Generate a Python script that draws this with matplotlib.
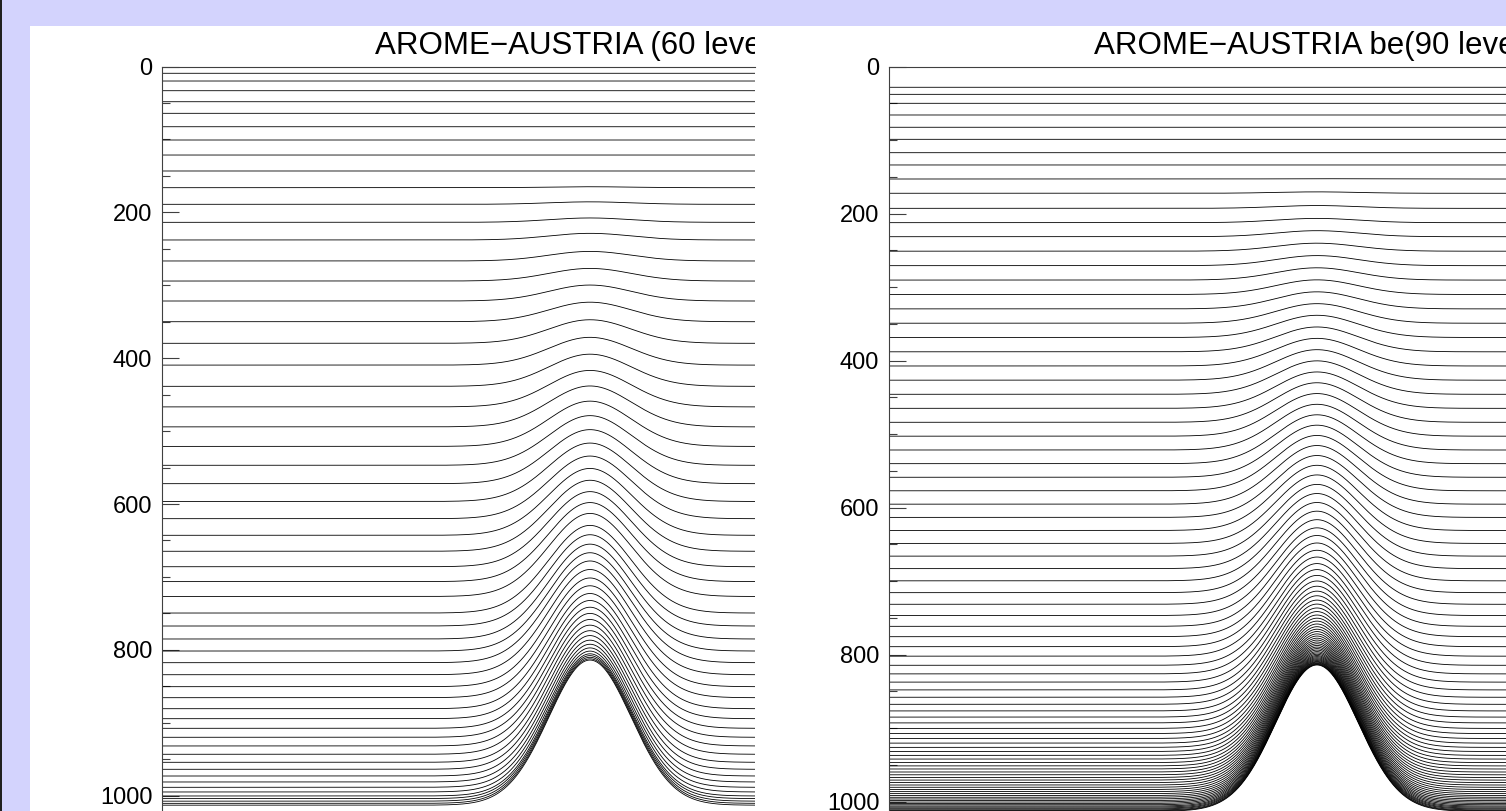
import numpy as np
import matplotlib
matplotlib.use("Agg")
import matplotlib.pyplot as plt
from matplotlib.patches import Rectangle
from matplotlib.transforms import Bbox, TransformedBbox
from matplotlib.ticker import MultipleLocator

plt.rcParams['font.family'] = ['Liberation Sans', 'DejaVu Sans']

# ---------------- data (hPa) ----------------
titles = ["AROME\u2212AUSTRIA (60 levels)", "AROME\u2212AUSTRIA be(90 levels)"]
yticks = [0, 200, 400, 600, 800, 1000]

# 60-level set: pressure of each level over flat ground and at the mountain crest
flat60 = [0, 9.3, 19.9, 33.2, 48.3, 64.2, 82.6, 100.8, 121.4, 143.3,
          166.2, 189.0, 213.7, 237.9, 266.7, 294.2, 321.6, 350.0, 379.6, 409.5,
          438.6, 466.8, 494.2, 521.0, 546.9, 572.1, 596.5, 620.1, 642.9, 664.8,
          686.0, 706.4, 726.8, 749.5, 767.3, 785.1, 801.6, 817.6, 834.1, 850.5,
          865.6, 880.7, 894.4, 907.6, 919.9, 931.8, 943.2, 954.2, 963.8, 973.0,
          981.2, 988.5, 994.9, 1000.4, 1004.0, 1007.5, 1010.5, 1013.0]
crest60 = [0, 9.3, 19.9, 33.2, 48.3, 64.2, 82.6, 100.8, 121.4, 143.3,
           164.9, 185.6, 207.7, 228.8, 253.6, 276.9, 299.7, 323.2, 347.3, 371.4,
           394.5, 416.8, 438.1, 458.9, 478.8, 498.0, 516.4, 534.2, 551.2, 567.4,
           583.0, 598.0, 612.9, 629.3, 642.1, 655.0, 666.8, 678.1, 689.8, 701.4,
           712.1, 722.7, 732.3, 741.5, 750.0, 758.3, 766.1, 773.7, 780.4, 786.7,
           792.3, 797.3, 801.7, 805.4, 807.9, 810.2, 812.3, 814.0]

# 90-level set
flat90 = [0, 28.0, 37.6, 49.8, 65.7, 82.4, 98.8, 117.0, 133.7, 152.8,
          172.2, 192.7, 212.2, 231.3, 251.0, 270.7, 290.3, 309.9, 329.5, 349.0,
          368.4, 387.9, 407.2, 426.5, 445.7, 464.8, 483.8, 502.7, 521.5, 540.1,
          558.6, 577.0, 595.2, 613.2, 631.0, 648.6, 665.9, 682.9, 699.5, 715.6,
          731.4, 746.7, 761.4, 775.5, 789.1, 802.0, 814.4, 826.1, 837.3, 847.9,
          857.9, 867.5, 876.5, 884.9, 892.8, 900.3, 907.3, 914.0, 920.3, 926.1,
          931.7, 937.0, 942.0, 946.8, 951.3, 955.5, 959.6, 963.4, 967.1, 970.6,
          974.0, 977.3, 980.4, 983.4, 986.3, 989.0, 991.6, 994.0, 996.3, 998.5,
          1000.5, 1002.4, 1004.2, 1005.9, 1007.3, 1008.7, 1009.9, 1011.2, 1012.2, 1013.0]
crest90 = [0, 28.0, 37.6, 49.8, 65.7, 82.4, 98.8, 117.0, 133.7, 152.4,
           170.3, 188.9, 206.4, 223.1, 240.1, 257.0, 273.6, 290.0, 306.3, 322.4,
           338.2, 354.1, 369.6, 385.0, 400.2, 415.3, 430.0, 444.7, 459.3, 473.6,
           487.7, 501.7, 515.4, 529.0, 542.3, 555.4, 568.3, 580.7, 592.9, 604.7,
           616.3, 627.4, 637.8, 648.0, 657.9, 667.1, 676.0, 684.2, 692.1, 699.7,
           706.8, 713.5, 719.8, 725.7, 731.1, 736.4, 741.3, 746.0, 750.3, 754.3,
           758.2, 761.9, 765.3, 768.5, 771.7, 774.6, 777.5, 780.1, 782.7, 785.1,
           787.4, 789.6, 791.7, 793.7, 795.8, 797.6, 799.4, 801.1, 802.6, 804.1,
           805.5, 806.8, 808.0, 809.2, 810.1, 811.1, 811.9, 812.8, 813.4, 814.0]

# idealised mountain: centre and e-folding half-width (km)
mount_center = 0.0
mount_halfwidth = 13.6

# ---------------- layout ----------------
W, H = 1506, 811
fig = plt.figure(figsize=(W / 100, H / 100), dpi=100)
fig.patch.set_facecolor('#d3d3fd')
fig.add_artist(Rectangle((30 / W, 0), 1, (H - 26) / H, transform=fig.transFigure,
                         facecolor='white', edgecolor='none', zorder=-5))
fig.add_artist(Rectangle((0, 0), 1.5 / W, 1, transform=fig.transFigure,
                         facecolor='#202020', edgecolor='none', zorder=-4))

panels = [
    dict(x0=162, x1=755, ytop=66.5, scale=0.7292, xc=590, flat=flat60, crest=crest60,
         clip=(30, 755), tx=375),
    dict(x0=889, x1=1506, ytop=66.7, scale=0.735, xc=1317, flat=flat90, crest=crest90,
         clip=(760, 1506), tx=1094),
]
px_per_km = 4.28
ybot = 840

for i, P in enumerate(panels):
    ax = fig.add_axes([P['x0'] / W, 1 - ybot / H, (P['x1'] - P['x0']) / W,
                       (ybot - P['ytop']) / H])
    pbot = (ybot - P['ytop']) / P['scale']
    xl = (P['x0'] - P['xc']) / px_per_km
    xr = (P['x1'] - P['xc']) / px_per_km
    x = np.linspace(xl, xr, 1600)
    g = np.exp(-((x - mount_center) / mount_halfwidth) ** 2)
    for f, c in zip(P['flat'], P['crest']):
        ax.plot(x, f + (c - f) * g, color='black', lw=0.6)
    ax.set_xlim(xl, xr)
    ax.set_ylim(pbot, 0)
    ax.set_yticks(yticks)
    ax.yaxis.set_minor_locator(MultipleLocator(50))
    ax.tick_params(which='both', direction='in', left=True, right=False, top=False,
                   bottom=False, labelbottom=False, colors='#404040', labelcolor='black')
    ax.tick_params(which='major', length=12.5, width=0.8, labelsize=17, pad=7)
    ax.tick_params(which='minor', length=6, width=0.8)
    for s in ['right', 'bottom']:
        ax.spines[s].set_visible(False)
    for s in ['left', 'top']:
        ax.spines[s].set_color('#404040')
        ax.spines[s].set_linewidth(0.8)
    ax.set_facecolor('none')

    t = fig.text(P['tx'] / W, 1 - 54 / H, titles[i], ha='left', va='baseline',
                 fontsize=22.5, color='black')
    cb = TransformedBbox(Bbox([[P['clip'][0] / W, 0], [P['clip'][1] / W, 1]]),
                         fig.transFigure)
    t.set_clip_box(cb)
    t.set_clip_on(True)

fig.savefig('out.png', dpi=100, facecolor=fig.get_facecolor())
